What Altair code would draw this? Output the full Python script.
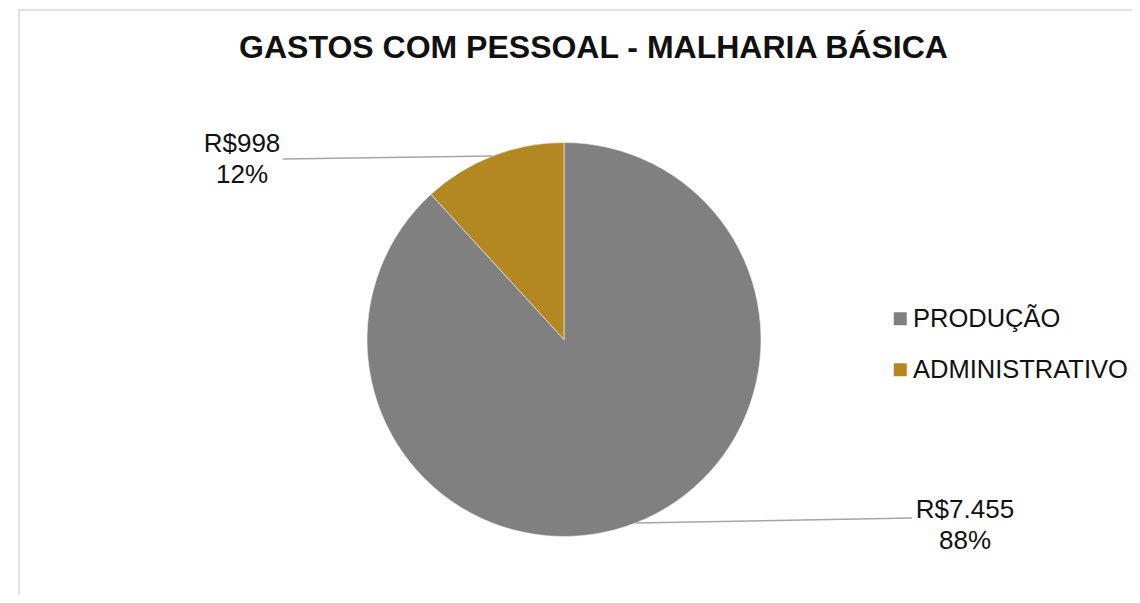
import altair as alt
import pandas as pd
import numpy as np

# ---- data ----
categories = ["PRODUÇÃO", "ADMINISTRATIVO"]
values = [7455, 998]
colors = ["#808080", "#B38821"]
title_text = "GASTOS COM PESSOAL - MALHARIA BÁSICA"

# ---- layout constants (view pixels) ----
W, H = 1124, 587
CX, CY, R = 556, 331.5, 197
label_anchor = {"PRODUÇÃO": (957, 510), "ADMINISTRATIVO": (234, 143.5)}
leader_end = {"PRODUÇÃO": (904, 510), "ADMINISTRATIVO": (275, 151)}
FONT = "Liberation Sans"

total = float(sum(values))
vals = np.array(values, dtype=float)
start = np.cumsum(vals) - vals
mid = (start + vals / 2) / total * 2 * np.pi

def fmt_money(v):
    return "R$" + f"{v:,}".replace(",", ".")

df = pd.DataFrame({
    "cat": categories,
    "value": values,
    "idx": list(range(len(categories))),
})
df["label"] = [f"{fmt_money(v)}\n{round(v / total * 100):.0f}%" for v in values]
df["lx"] = [label_anchor[c][0] for c in categories]
df["ly"] = [label_anchor[c][1] for c in categories]
df["sx"] = CX + R * np.sin(mid)
df["sy"] = CY - R * np.cos(mid)
df["ex"] = [leader_end[c][0] for c in categories]
df["ey"] = [leader_end[c][1] for c in categories]

base = alt.Chart(df)

border = alt.Chart(pd.DataFrame({"a": [0]})).mark_rect(
    fill="white", stroke="#D9D9D9", strokeWidth=1.5
).encode(
    x=alt.value(11), y=alt.value(2), x2=alt.value(1300), y2=alt.value(800)
)

pie = base.mark_arc(radius=R, stroke="#F2F2F2", strokeWidth=0.6).encode(
    theta=alt.Theta("value:Q", stack=True),
    order=alt.Order("idx:Q"),
    color=alt.Color(
        "cat:N",
        scale=alt.Scale(domain=categories, range=colors),
        sort=categories,
        legend=alt.Legend(
            title=None,
            orient="none",
            legendX=879.5,
            legendY=298,
            padding=0,
            symbolType="square",
            symbolSize=169,
            symbolStrokeWidth=0,
            labelFont=FONT,
            labelFontSize=25.5,
            labelColor="#111111",
            labelOffset=0,
            rowPadding=24,
            labelLimit=400,
        ),
    ),
    x=alt.value(CX),
    y=alt.value(CY),
)

leaders = base.mark_rule(color="#A6A6A6", strokeWidth=1.5).encode(
    x=alt.X("sx:Q", scale=None),
    y=alt.Y("sy:Q", scale=None),
    x2="ex:Q",
    y2="ey:Q",
)

labels = base.mark_text(
    font=FONT, fontSize=26, lineBreak="\n", lineHeight=31,
    align="center", baseline="alphabetic", color="#111111"
).encode(
    x=alt.X("lx:Q", scale=None),
    y=alt.Y("ly:Q", scale=None),
    text="label:N",
)

title = alt.Chart(pd.DataFrame({"t": [title_text]})).mark_text(
    font=FONT, fontSize=32, fontWeight="bold", align="center",
    baseline="alphabetic", color="#111111"
).encode(
    x=alt.value(585.5), y=alt.value(50), text="t:N"
)

chart = alt.layer(border, pie, leaders, labels, title).properties(
    width=W, height=H, padding=0, autosize=alt.AutoSizeParams(type="none")
).configure_view(strokeWidth=0)

chart.save("out.html", embed_options={"renderer": "svg", "actions": False})
